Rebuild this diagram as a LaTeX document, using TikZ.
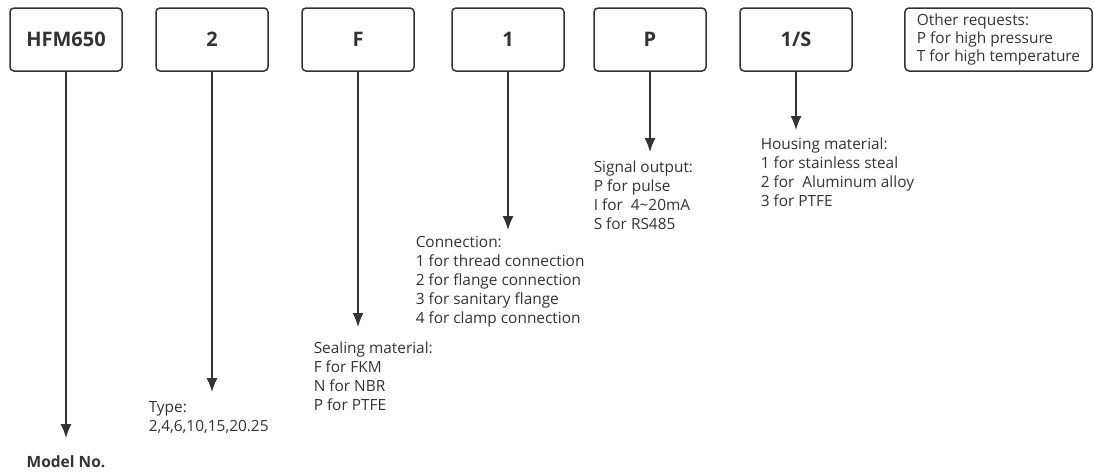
\documentclass[tikz,border=0pt]{standalone}
\usepackage{fontspec}
\setsansfont{Open Sans}
\usetikzlibrary{arrows.meta,positioning}
\definecolor{ink}{HTML}{333333}

\tikzset{
  codebox/.style={draw,rounded corners=4pt,minimum width=112pt,minimum height=63pt,
    inner sep=0pt,font=\sffamily\bfseries\fontsize{20}{24}\selectfont},
  reqbox/.style={draw,rounded corners=4pt,minimum width=187pt,minimum height=63pt,
    inner xsep=12pt,inner ysep=0pt,align=left,font=\sffamily\fontsize{15.4}{18}\selectfont},
  note/.style={anchor=north west,inner sep=0pt,align=left,
    font=\sffamily\fontsize{15.4}{19}\selectfont},
}

\begin{document}
\begin{tikzpicture}[x=1pt,y=-1pt,>={Latex[length=14pt,width=11pt]},font=\sffamily,color=ink,line width=1.5pt]
    \useasboundingbox (0,0) rectangle (1094,474);
    \foreach \x/\code/\name in {66/HFM650/b1,212/2/b2,358/F/b3,508/1/b4,650/P/b5,796/1\slash S/b6}
        \node [codebox] (\name) at (\x,39.5) {\code};
    \node [reqbox] (req) at (998.5,39.5) {Other requests:\\P for high pressure\\T for high temperature};
    \coordinate (t1) at (66,438);
    \coordinate (t2) at (212,392);
    \coordinate (t3) at (358,327);
    \coordinate (t4) at (508,230);
    \coordinate (t5) at (650,152);
    \coordinate (t6) at (796,130);
    \foreach \i in {1,...,6}
        \draw[->] (b\i) -- (t\i);
    \node [font=\sffamily\bfseries\fontsize{15.5}{19}\selectfont] (l1) at (66,462) {Model No.};
    \node [note] (l2) at (148,401) {Type:\\2,4,6,10,15,20.25};
    \node [note] (l3) at (313,341) {Sealing material:\\F for FKM\\N for NBR\\P for PTFE};
    \node [note] (l4) at (415,235) {Connection:\\1 for thread connection\\2 for flange connection\\3 for sanitary flange\\4 for clamp connection};
    \node [note] (l5) at (593,160) {Signal output:\\P for pulse\\I for\ \ 4\textasciitilde20mA\\S for RS485};
    \node [note] (l6) at (760,137) {Housing material:\\1 for stainless steal\\2 for\ \ Aluminum alloy\\3 for PTFE};
\end{tikzpicture}
\end{document}
